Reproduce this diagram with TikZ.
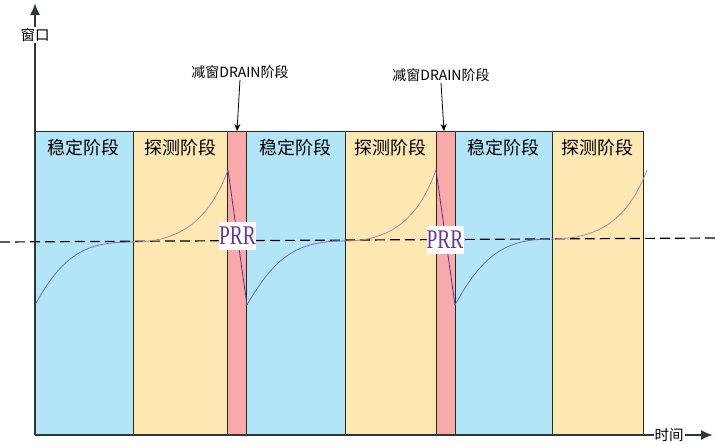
\documentclass[tikz,border=0pt]{standalone}
\usepackage{fontspec}
\setmainfont{Liberation Serif}
\newfontfamily\cjk{Noto Sans CJK SC}
\usetikzlibrary{arrows.meta}
\definecolor{stblue}{RGB}{179,229,248}
\definecolor{styellow}{RGB}{253,232,178}
\definecolor{stpink}{RGB}{249,169,170}
\definecolor{edgec}{RGB}{30,45,30}
\definecolor{axisc}{RGB}{45,55,55}
\definecolor{cblue}{RGB}{110,105,195}
\definecolor{cyellow}{RGB}{180,130,165}
\definecolor{cdrop}{RGB}{90,50,140}
\definecolor{prrc}{RGB}{100,55,150}
\begin{document}
\begin{tikzpicture}[x=1pt,y=-1pt,
  stagebox/.style={draw=edgec,line width=0.8pt},
  stagelab/.style={font=\cjk\fontsize{18}{20}\selectfont,inner sep=0pt},
  drainlab/.style={font=\cjk\fontsize{14}{16}\selectfont,inner sep=1pt},
  axislab/.style={font=\cjk\fontsize{14.5}{16}\selectfont,fill=white,inner sep=1pt},
  axisline/.style={draw=axisc,line width=2pt,-{Latex[length=12pt,width=10pt]}},
  pointer/.style={draw=black,line width=0.8pt,-{Stealth[length=7pt,width=6pt]}},
  prrbox/.style={fill=white,text=prrc,font=\fontsize{27}{28}\selectfont,inner sep=0pt,minimum width=37pt,minimum height=28pt},
  baseline/.style={draw=black,line width=1.2pt,dash pattern=on 10pt off 5pt},
  curve/.style={line width=0.8pt}]
\useasboundingbox (0,0) rectangle (716,445);
% stage rectangles
\foreach \a/\b/\c in {35/133/stblue,133/227/styellow,227/246/stpink,246/345/stblue,345/436/styellow,436/455/stpink,455/552/stblue,552/643/styellow}
  \draw[stagebox,fill=\c] (\a,131) rectangle (\b,435);
% stage labels
\node[stagelab] (s1) at (84,148) {稳定阶段};
\node[stagelab] (s2) at (180,148) {探测阶段};
\node[stagelab] (s3) at (295.5,148) {稳定阶段};
\node[stagelab] (s4) at (390.5,148) {探测阶段};
\node[stagelab] (s5) at (503.5,148) {稳定阶段};
\node[stagelab] (s6) at (597.5,148) {探测阶段};
% dashed reference line
\coordinate (dl) at (0,242);
\coordinate (dr) at (716,238);
\draw[baseline] (dl) -- (dr);
% window curve
\coordinate (c0) at (35,305);
\coordinate (c1) at (133,242);
\coordinate (c2) at (228,170);
\coordinate (c3) at (247,305);
\coordinate (c4) at (345,241);
\coordinate (c5) at (436,170);
\coordinate (c6) at (455,305);
\coordinate (c7) at (552,239);
\coordinate (c8) at (647,170);
\draw[curve,cblue] (c0) .. controls (65,250) and (90,242) .. (c1);
\draw[curve,cyellow] (c1) .. controls (185,242) and (211,215) .. (c2);
\draw[curve,cdrop] (c2) -- (c3);
\draw[curve,cblue] (c3) .. controls (277,252) and (302,241) .. (c4);
\draw[curve,cyellow] (c4) .. controls (395,241) and (420,214) .. (c5);
\draw[curve,cdrop] (c5) -- (c6);
\draw[curve,cblue] (c6) .. controls (485,250) and (510,239) .. (c7);
\draw[curve,cyellow] (c7) .. controls (604,239) and (630,214) .. (c8);
% PRR labels
\node[prrbox] (prr1) at (237.5,236) {\scalebox{0.72}[1]{PRR}};
\node[prrbox] (prr2) at (445,240) {\scalebox{0.72}[1]{PRR}};
% drain labels and pointers
\node[drainlab] (d1) at (240,72) {减窗DRAIN阶段};
\node[drainlab] (d2) at (441,75) {减窗DRAIN阶段};
\coordinate (p1) at (237,131);
\coordinate (p2) at (444,131);
\draw[pointer] (d1.south) -- (p1);
\draw[pointer] (d2.south) -- (p2);
% axes
\coordinate (o) at (35,435);
\coordinate (ytip) at (35,3);
\coordinate (xtip) at (713,435);
\draw[axisline] (o) -- (ytip);
\draw[axisline] (o) -- (xtip);
\node[axislab] (ylab) at (35,35) {窗口};
\node[axislab] (xlab) at (669,435) {时间};
\end{tikzpicture}
\end{document}
